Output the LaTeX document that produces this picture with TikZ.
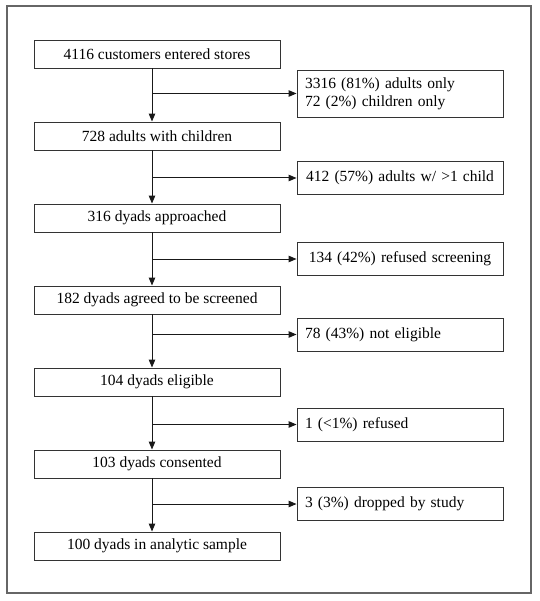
\documentclass[tikz,border=0pt]{standalone}
\usepackage{fontspec}
\setmainfont{Liberation Serif}
\newfontfamily\chartfont{Liberation Serif}
\usetikzlibrary{arrows.meta}

\begin{document}
\begin{tikzpicture}[x=1pt,y=1pt,>={Triangle[length=8pt,width=6.5pt]},
    node distance=82pt,
    font=\chartfont\fontsize{15.5}{18}\selectfont,
    mainbox/.style={draw=black!80,line width=0.9pt,minimum width=246pt,minimum height=28pt,inner sep=0pt},
    sidebox/.style={draw=black!80,line width=0.9pt,minimum width=206pt,minimum height=33pt,
        inner xsep=8pt,inner ysep=2pt,text width=190pt,align=left},
    widebox/.style={sidebox,inner xsep=2pt,text width=202pt,align=center},
    flow/.style={->,line width=1pt,black!90}]

\useasboundingbox (0,0) rectangle (539,-601);
\draw[black!60,line width=1.5pt] (7,-6) rectangle (531,-593);

\node[mainbox] (m1) at (157,-54) {4116 customers entered stores};
\node[mainbox] (m2) [below of=m1] {728 adults with children};
\node[mainbox] (m3) [below of=m2] {316 dyads approached};
\node[mainbox] (m4) [below of=m3] {182 dyads agreed to be screened};
\node[mainbox] (m5) [below of=m4] {104 dyads eligible};
\node[mainbox] (m6) [below of=m5] {103 dyads consented};
\node[mainbox] (m7) [below of=m6] {100 dyads in analytic sample};

\node[sidebox,minimum height=47pt] (s1) at (400,-93.5) {3316 (81\%) adults only\\72 (2\%) children only};
\node[widebox] (s2) at (400,-178) {412 (57\%) adults w/ >1 child};
\node[widebox] (s3) at (400,-259) {134 (42\%) refused screening};
\node[sidebox] (s4) at (400,-334.5) {78 (43\%) not eligible};
\node[sidebox] (s5) at (400,-424.5) {1 (<1\%) refused};
\node[sidebox] (s6) at (400,-504) {3 (3\%) dropped by study};

\coordinate (trunk) at (152,0);

\foreach \a/\b in {m1/m2,m2/m3,m3/m4,m4/m5,m5/m6,m6/m7}
    \draw[flow] (\a.south -| trunk) -- (\b.north -| trunk);
\foreach \s in {s1,s2,s3,s4,s5,s6}
    \draw[flow] (\s.west -| trunk) -- (\s.west);

\end{tikzpicture}
\end{document}
